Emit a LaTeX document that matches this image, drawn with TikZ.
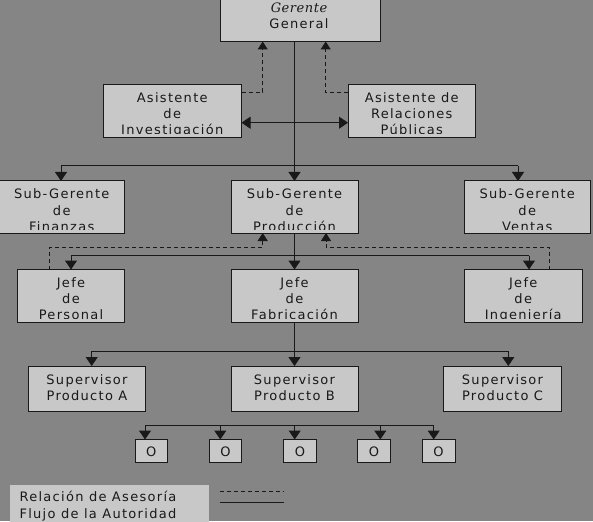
\documentclass[tikz,border=0pt]{standalone}
\usepackage{fontspec}
\setmainfont{DejaVu Sans}[LetterSpace=10]
\newfontfamily\gfont{DejaVu Serif}[LetterSpace=4]
\usetikzlibrary{arrows.meta}
\definecolor{bgc}{RGB}{133,133,133}
\definecolor{boxc}{RGB}{200,200,200}
\definecolor{linec}{RGB}{25,25,25}
\tikzset{
 orgbox/.style={draw=linec, fill=boxc, line width=1pt, inner sep=0pt, outer sep=0pt},
 txt/.style={font=\fontsize{13}{16}\selectfont, text=linec, inner sep=0pt},
 auth/.style={draw=linec, line width=1pt},
 authar/.style={auth, -{Triangle[width=12pt,length=9pt]}},
 adv/.style={draw=linec, line width=1pt, dash pattern=on 4pt off 3pt},
 advar/.style={adv, -{Triangle[width=10pt,length=8pt]}},
}
% name, x1, y1, x2, y2, lines
\newcommand\obox[6]{%
  \node[orgbox, minimum width={(#4-(#2))*1pt}, minimum height={(#5-(#3))*1pt}]
    (#1) at ({(#2+#4)/2},{(#3+#5)/2}) {};
  \begin{scope}
    \clip (#2,#3) rectangle (#4,{#5-4});
    \foreach \ln [count=\i] in {#6} {
      \node[txt, anchor=base] (#1-\i) at ({(#2+#4)/2},{#3+18+16*(\i-1)}) {\ln};
    }
  \end{scope}
}
% name, x1, x2
\newcommand\ozbox[3]{%
  \node[orgbox, minimum width={(#3-(#2))*1pt}, minimum height=23pt]
    (#1) at ({(#2+#3)/2},451) {};
  \node[txt, anchor=base] (#1-t) at ({(#2+#3)/2},456) {O};
}
\begin{document}
\begin{tikzpicture}[x=1pt,y=-1pt]
\useasboundingbox (0,0) rectangle (593,521);
\fill[bgc] (0,0) rectangle (593,521);

% top box
\node[orgbox, minimum width=160pt, minimum height=46.5pt] (GG) at (300,{(-5+41.5)/2}) {};
\node[txt, anchor=base, font=\fontsize{13}{16}\gfont\itshape] (GG-1) at (299,13) {Gerente};
\node[txt, anchor=base] (GG-2) at (299,29) {General};

\obox{AI}{103}{85}{241.5}{137.5}{Asistente, de, Investigación}
\obox{AR}{348}{85}{475.5}{137.5}{Asistente de, Relaciones, Públicas}

\obox{SF}{-1}{181}{124.5}{233}{Sub-Gerente, de, Finanzas}
\obox{SP}{231}{181}{358}{233}{Sub-Gerente, de, Producción}
\obox{SV}{464.5}{181}{590}{233}{Sub-Gerente, de, Ventas}

\obox{JP}{17.5}{269.5}{124.5}{322}{Jefe, de, Personal}
\obox{JF}{231}{269.5}{358}{322}{Jefe, de, Fabricación}
\obox{JI}{464.5}{269.5}{582}{322}{Jefe, de, Ingeniería}

\obox{PA}{28.5}{366}{145.5}{411}{Supervisor, Producto A}
\obox{PB}{231}{366}{358}{411}{Supervisor, Producto B}
\obox{PC}{443.5}{366}{561.5}{411}{Supervisor, Producto C}

\ozbox{z1}{135}{167.5}
\ozbox{z2}{209.5}{241.5}
\ozbox{z3}{283.5}{316.5}
\ozbox{z4}{357.5}{390.5}
\ozbox{z5}{422}{455}

% legend
\node[fill=boxc, inner sep=0pt, minimum width=199.5pt, minimum height=40pt, anchor=north west] (leg) at (9.5,485) {};
\node[txt, anchor=base west] (leg-1) at (19.3,501.7) {Relación de Asesoría};
\node[txt, anchor=base west] (leg-2) at (19.3,518.3) {Flujo de la Autoridad};
\coordinate (l1a) at (220,491); \coordinate (l1b) at (284,491);
\coordinate (l2a) at (220,502.7); \coordinate (l2b) at (284,502.7);
\draw[adv] (l1a) -- (l1b);
\draw[auth] (l2a) -- (l2b);

% coordinates
\coordinate (h1l) at (61,166); \coordinate (h1r) at (518,166);
\coordinate (h2l) at (71,255.7); \coordinate (h2r) at (529,255.7);
\coordinate (h3l) at (91.7,351); \coordinate (h3r) at (508.3,351);
\coordinate (h4l) at (145,425); \coordinate (h4r) at (433.7,425);
\coordinate (a2) at (220.3,425); \coordinate (a3) at (294.7,425); \coordinate (a4) at (380.3,425);
\coordinate (dbl) at (0,122.7);
\coordinate (da1) at (262.7,92.3); \coordinate (da2) at (325.7,92.3);
\coordinate (db1) at (49.3,247.5); \coordinate (db2) at (262.7,247.5);
\coordinate (db3) at (549.7,247.5); \coordinate (db4) at (326,247.5);

% authority
\draw[authar] (SP.north |- GG.south) -- (SP.north);
\draw[auth] (h1l) -- (h1r);
\draw[authar] (h1l) -- (SF.north -| h1l);
\draw[authar] (h1r) -- (SV.north -| h1r);
\draw[auth, {Triangle[width=12pt,length=9pt]}-{Triangle[width=12pt,length=9pt]}] (AI.east |- dbl) -- (AR.west |- dbl);
\draw[authar] (SP.south) -- (JF.north);
\draw[auth] (h2l) -- (h2r);
\draw[authar] (h2l) -- (JP.north -| h2l);
\draw[authar] (h2r) -- (JI.north -| h2r);
\draw[auth] (JF.south) -- (JF.south |- h3l);
\draw[auth] (h3l) -- (h3r);
\draw[authar] (h3l) -- (PA.north -| h3l);
\draw[authar] (JF.south |- h3l) -- (PB.north);
\draw[authar] (h3r) -- (PC.north -| h3r);
\draw[auth] (h4l) -- (h4r);
\draw[authar] (h4l) -- (z1.north -| h4l);
\draw[authar] (a2) -- (z2.north -| a2);
\draw[authar] (a3) -- (z3.north -| a3);
\draw[authar] (a4) -- (z4.north -| a4);
\draw[authar] (h4r) -- (z5.north -| h4r);

% advisory
\draw[advar] (AI.east |- da1) -- (da1) -- (GG.south -| da1);
\draw[advar] (AR.west |- da2) -- (da2) -- (GG.south -| da2);
\draw[advar] (JP.north -| db1) -- (db1) -- (db2) -- (SP.south -| db2);
\draw[advar] (JI.north -| db3) -- (db3) -- (db4) -- (SP.south -| db4);
\end{tikzpicture}
\end{document}
